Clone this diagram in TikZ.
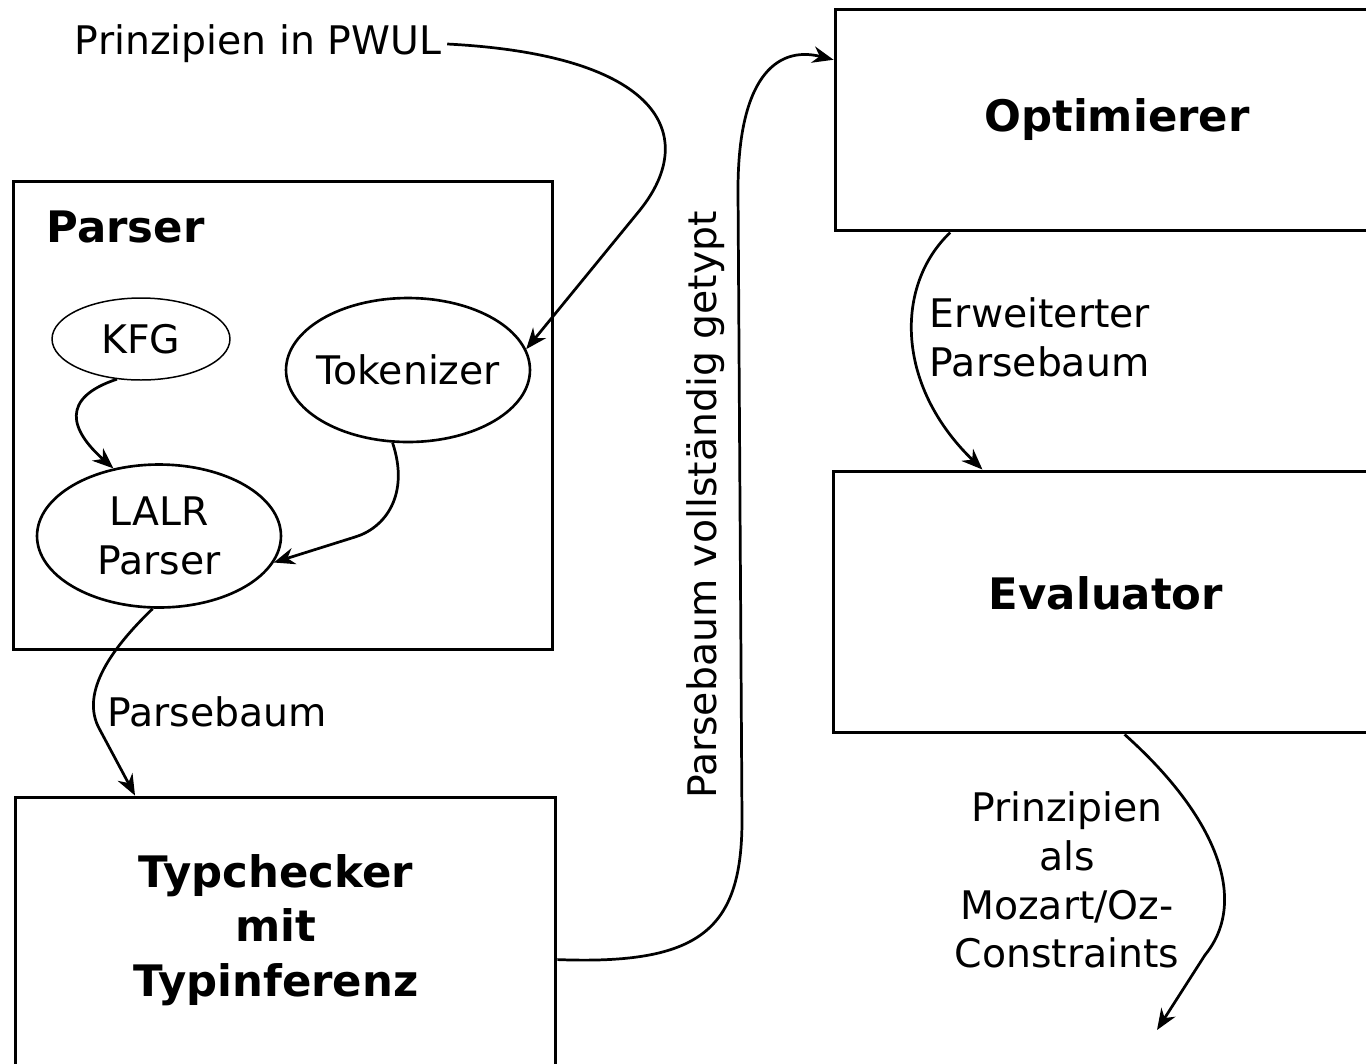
\documentclass[tikz,border=0pt]{standalone}
\usepackage{fontspec}
\setmainfont{DejaVu Sans}
\usetikzlibrary{arrows.meta,shapes.geometric}

\begin{document}
\begin{tikzpicture}[x=0.02cm, y=-0.02cm,
    font=\fontsize{22.4pt}{27.8pt}\selectfont,
    box/.style={draw, rectangle, line width=1.7pt, align=center,
        font=\fontsize{24.7pt}{31.2pt}\selectfont\bfseries},
    title/.style={align=center, font=\fontsize{24.7pt}{31.2pt}\selectfont\bfseries},
    blob/.style={draw, ellipse, line width=1.5pt, inner sep=0pt, align=center},
    flow/.style={line width=1.55pt, -{Stealth[length=12pt, width=9.5pt]}}]
    \useasboundingbox (0,0) rectangle (1366,1063);

    \node[box, minimum width=10.8cm, minimum height=9.38cm] (parser) at (283,415.5) {};
    \node[title] (parsertitle) at (125.5,227) {Parser};

    \node[blob, line width=0.85pt, minimum width=3.56cm, minimum height=1.64cm] (kfg) at (141,339) {KFG};
    \node[blob, inner xsep=-0.2cm, minimum width=4.88cm, minimum height=2.88cm] (tok) at (408,370) {Tokenizer};
    \node[blob, minimum width=4.88cm, minimum height=2.86cm] (lalr) at (159,536) {LALR\\Parser};

    \node[box, minimum width=10.82cm, minimum height=5.36cm] (typ) at (285.5,931) {};
    \node[title] (typtext) at (276,930) {Typchecker\\mit\\Typinferenz};
    \node[box, minimum width=11.28cm, minimum height=4.44cm] (opt) at (1117,120) {Optimierer};
    \node[box, text depth=0.36cm, minimum width=10.92cm, minimum height=5.24cm] (eval) at (1106,602) {Evaluator};

    \node (pwul) at (258,44) {Prinzipien in PWUL};
    \node (baum) at (217,712) {Parsebaum};
    \node[rotate=90] (getypt) at (706,505) {Parsebaum vollständig getypt};
    \node[align=left] (erw) at (1040,337) {Erweiterter\\Parsebaum};
    \node[align=center] (oz) at (1067,880) {Prinzipien\\als\\Mozart/Oz-\\Constraints};
    \coordinate (out) at (1157,1030);

    \draw[flow] (pwul.east) .. controls (660,55) and (700,135) .. (640,210) -- (tok.10);
    \draw[flow] (kfg.239) .. controls (60,398) and (70,430) .. (lalr.124);
    \draw[flow] (tok.258) .. controls (410,495) and (385,528) .. (355,537) -- (lalr.347);
    \draw[flow] (lalr.265) .. controls (115,645) and (78,692) .. (100,730) -- (typ.138);
    \draw[flow] (typ.354) .. controls (700,965) and (742,930) .. (742,820) -- (738,190)
        .. controls (738,80) and (775,45) .. (opt.168);
    \draw[flow] (opt.214) .. controls (895,285) and (895,385) .. (eval.133);
    \draw[flow] (eval.278) .. controls (1215,815) and (1250,900) .. (1205,955) -- (out);
\end{tikzpicture}
\end{document}
